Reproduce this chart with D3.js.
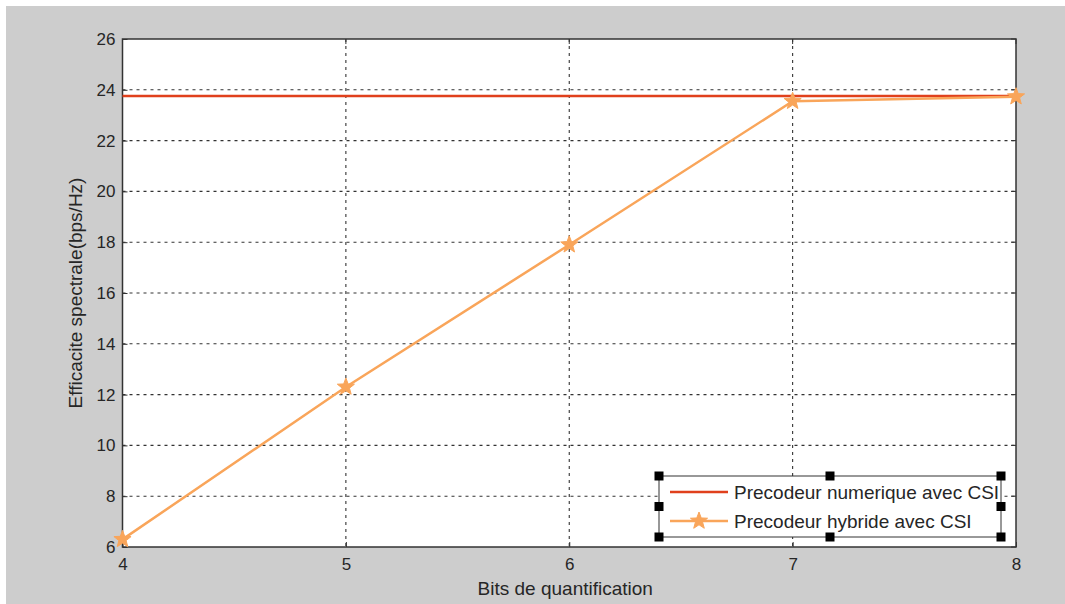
<!DOCTYPE html>
<html>
<head>
<meta charset="utf-8">
<script src="https://cdn.jsdelivr.net/npm/d3@7"></script>
<style>
  html, body { margin: 0; padding: 0; background: #ffffff; }
  svg { display: block; }
  text { font-family: "Liberation Sans", Arial, sans-serif; fill: #262626; }
</style>
</head>
<body>
<svg id="chart" width="1065" height="604"></svg>
<script>
// Quantization bits on the x axis
const bits = [4, 5, 6, 7, 8];
// Spectral efficiency (bps/Hz)
const numericValues = [23.76, 23.76, 23.76, 23.76, 23.76];
const hybridValues = [6.3, 12.3, 17.9, 23.55, 23.73];
const xTicks = [4, 5, 6, 7, 8];
const yTicks = [6, 8, 10, 12, 14, 16, 18, 20, 22, 24, 26];
const seriesNames = ["Precodeur numerique avec CSI", "Precodeur hybride avec CSI"];
const xLabel = "Bits de quantification";
const yLabel = "Efficacite spectrale(bps/Hz)";

const svg = d3.select("#chart");
const W = 1065, H = 604;
const plot = { left: 122.5, top: 39, right: 1016, bottom: 547 };

// figure background
svg.append("rect").attr("x", 6).attr("y", 6).attr("width", W - 6).attr("height", H - 6)
  .attr("fill", "#cdcdcd");

const x = d3.scaleLinear().domain([4, 8]).range([plot.left, plot.right]);
const y = d3.scaleLinear().domain([6, 26]).range([plot.bottom, plot.top]);

// axes area
svg.append("rect").attr("x", plot.left).attr("y", plot.top)
  .attr("width", plot.right - plot.left).attr("height", plot.bottom - plot.top)
  .attr("fill", "#ffffff");

// dashed grid
const grid = svg.append("g").attr("stroke", "#333").attr("stroke-width", 1.1)
  .attr("stroke-dasharray", "3,4");
grid.selectAll(".gx").data(xTicks.slice(1, -1)).join("line")
  .attr("x1", d => x(d)).attr("x2", d => x(d))
  .attr("y1", plot.top).attr("y2", plot.bottom);
grid.selectAll(".gy").data(yTicks.slice(1, -1)).join("line")
  .attr("x1", plot.left).attr("x2", plot.right)
  .attr("y1", d => y(d)).attr("y2", d => y(d));

// axes with inward ticks
const xAxis = d3.axisBottom(x).tickValues(xTicks).tickSize(-5).tickPadding(11).tickFormat(d3.format("d"));
const yAxis = d3.axisLeft(y).tickValues(yTicks).tickSize(-5).tickPadding(7).tickFormat(d3.format("d"));
const gx = svg.append("g").attr("transform", `translate(0,${plot.bottom})`).call(xAxis);
const gy = svg.append("g").attr("transform", `translate(${plot.left},0)`).call(yAxis);
[gx, gy].forEach(g => {
  g.select(".domain").remove();
  g.selectAll(".tick line").attr("stroke", "#333").attr("stroke-width", 1);
  g.selectAll(".tick text").attr("font-size", 17).attr("fill", "#262626")
    .style("font-family", "'Liberation Sans', Arial, sans-serif");
});
// top/right ticks
svg.append("g").selectAll("line").data(xTicks).join("line")
  .attr("x1", d => x(d)).attr("x2", d => x(d)).attr("y1", plot.top).attr("y2", plot.top + 5)
  .attr("stroke", "#333");
svg.append("g").selectAll("line").data(yTicks).join("line")
  .attr("x1", plot.right).attr("x2", plot.right - 5).attr("y1", d => y(d)).attr("y2", d => y(d))
  .attr("stroke", "#333");

// axes box
svg.append("rect").attr("x", plot.left).attr("y", plot.top)
  .attr("width", plot.right - plot.left).attr("height", plot.bottom - plot.top)
  .attr("fill", "none").attr("stroke", "#333").attr("stroke-width", 1.5);

// axis labels
svg.append("text").attr("x", (plot.left + plot.right) / 2 - 4).attr("y", 595)
  .attr("text-anchor", "middle").attr("font-size", 19).text(xLabel);
svg.append("text").attr("transform", `translate(82,${(plot.top + plot.bottom) / 2}) rotate(-90)`)
  .attr("text-anchor", "middle").attr("font-size", 19).text(yLabel);

const red = "#e0401c", orange = "#f9a55a";
const line = d3.line().x((d, i) => x(bits[i])).y(d => y(d));

// star marker path
function starPath(cx, cy, r) {
  const pts = [];
  for (let k = 0; k < 10; k++) {
    const a = -Math.PI / 2 + k * Math.PI / 5;
    const rr = k % 2 === 0 ? r : r * 0.42;
    pts.push([cx + rr * Math.cos(a), cy + rr * Math.sin(a)]);
  }
  return "M" + pts.map(p => p.join(",")).join("L") + "Z";
}

svg.append("path").datum(numericValues).attr("d", line)
  .attr("fill", "none").attr("stroke", red).attr("stroke-width", 2.5);
svg.append("path").datum(hybridValues).attr("d", line)
  .attr("fill", "none").attr("stroke", orange).attr("stroke-width", 2.5);
svg.append("g").selectAll("path").data(hybridValues).join("path")
  .attr("d", (d, i) => starPath(x(bits[i]), y(d), 9))
  .attr("fill", orange).attr("stroke", orange).attr("stroke-width", 1);

// legend
const lg = { x: 659, y: 476, w: 342, h: 61 };
svg.append("rect").attr("x", lg.x).attr("y", lg.y).attr("width", lg.w).attr("height", lg.h)
  .attr("fill", "#ffffff").attr("stroke", "#333").attr("stroke-width", 1);
const rows = [
  { name: seriesNames[0], color: red, star: false, cy: lg.y + 16 },
  { name: seriesNames[1], color: orange, star: true, cy: lg.y + 45 }
];
rows.forEach(r => {
  svg.append("line").attr("x1", lg.x + 11).attr("x2", lg.x + 69)
    .attr("y1", r.cy).attr("y2", r.cy).attr("stroke", r.color).attr("stroke-width", 2.5);
  if (r.star) svg.append("path").attr("d", starPath(lg.x + 40, r.cy, 9)).attr("fill", r.color).attr("stroke", r.color);
  svg.append("text").attr("x", lg.x + 75).attr("y", r.cy + 6.5).attr("font-size", 19).text(r.name);
});
// selection handles around the legend
const hs = 9;
const handles = [];
[lg.x, lg.x + lg.w / 2, lg.x + lg.w].forEach(hx => {
  [lg.y, lg.y + lg.h / 2, lg.y + lg.h].forEach(hy => {
    if (!(hx === lg.x + lg.w / 2 && hy === lg.y + lg.h / 2)) handles.push([hx, hy]);
  });
});
svg.append("g").selectAll("rect").data(handles).join("rect")
  .attr("x", d => d[0] - hs / 2).attr("y", d => d[1] - hs / 2)
  .attr("width", hs).attr("height", hs).attr("fill", "#000");
</script>
</body>
</html>
